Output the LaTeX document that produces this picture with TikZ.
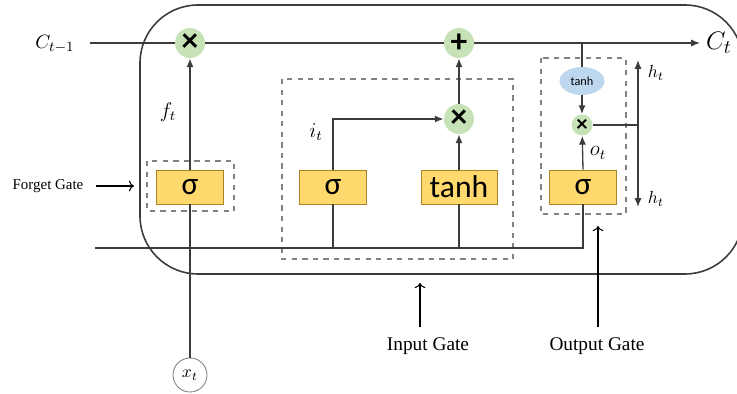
\documentclass[tikz,border=0pt]{standalone}
\usepackage{fontspec}
\setmainfont{Liberation Serif}
\newfontfamily\gatefont{Carlito}
\definecolor{GateYellow}{RGB}{255,217,110}
\definecolor{GateEdge}{RGB}{170,130,40}
\definecolor{OpGreen}{RGB}{200,226,184}
\definecolor{TanhBlue}{RGB}{189,215,238}
\definecolor{WireGray}{RGB}{60,60,60}
\definecolor{DashGray}{RGB}{130,130,130}
\usepackage{tikz}
\usetikzlibrary{shapes.geometric, arrows.meta, positioning, calc}

\begin{document}
\begin{tikzpicture}[x=0.02cm, y=-0.02cm,
    wire/.style={draw=WireGray, line width=0.75pt},
    flow/.style={wire, -{Latex[length=5pt, width=4pt]}},
    gatebox/.style={draw=GateEdge, line width=0.4pt, fill=GateYellow, minimum width=1.34cm, minimum height=0.68cm, inner sep=0pt, font=\gatefont\fontsize{18}{18}\selectfont},
    opnode/.style={circle, fill=OpGreen, minimum size=0.6cm, inner sep=0pt, font=\gatefont\bfseries\fontsize{19}{19}\selectfont},
    gategroup/.style={draw=DashGray, dashed, line width=0.7pt},
    note/.style={font=\fontsize{11}{11}\selectfont},
    pointer/.style={draw=black, line width=0.6pt, ->}]
    \clip (0,0) rectangle (737,394);

    % cell outline
    \draw[draw=WireGray, line width=0.9pt, rounded corners=1.16cm] (140,5) rectangle (743,274);

    % gate groups
    \draw[gategroup] (147,161) rectangle (234,211);
    \draw[gategroup] (282,79) rectangle (513,259);
    \draw[gategroup] (541,58) rectangle (626,214);

    % gates
    \node[gatebox] (fsig) at (190,187) {σ};
    \node[gatebox] (isig) at (333,187) {σ};
    \node[gatebox, minimum width=1.52cm] (itanh) at (459,187) {tanh};
    \node[gatebox] (osig) at (583,187) {σ};

    % pointwise operations
    \node[opnode] (fmul) at (190,43) {×};
    \node[opnode] (add) at (459,43) {+};
    \node[opnode] (imul) at (459,119) {×};
    \node[opnode, minimum size=0.42cm, font=\gatefont\bfseries\fontsize{13}{13}\selectfont] (omul) at (582,125) {×};
    \node[ellipse, fill=TanhBlue, minimum width=0.9cm, minimum height=0.56cm, inner sep=0pt, font=\gatefont\fontsize{7}{7}\selectfont] (otanh) at (582,81) {tanh};

    % input x_t
    \node[circle, draw=DashGray, line width=0.5pt, fill=white, minimum size=0.68cm, inner sep=0pt] (xt) at (190,375) {$x_t$};

    % cell state
    \coordinate (cin) at (90,43);
    \coordinate (cout) at (700,43);
    \coordinate (ctap) at (582,43);
    \node[font=\fontsize{11}{11}\selectfont] (cprev) at (55,44) {$C_{t-1}$};
    \node[font=\fontsize{15}{15}\selectfont, right=0pt of cout] (cnext) {$C_t$};
    \draw[wire] (cin) -- (fmul);
    \draw[wire] (fmul) -- (add);
    \draw[flow] (add) -- (cout);

    % hidden state bus
    \coordinate (hin) at (95,248);
    \coordinate (itap) at (333,248);
    \coordinate (ttap) at (459,248);
    \draw[wire] (hin) -| (osig.south);
    \draw[wire] (itap) -- (isig.south);
    \draw[wire] (ttap) -- (itanh.south);
    \draw[wire] (xt) -- (fsig.south);

    % forget gate
    \draw[flow] (fsig.north) -- (fmul);
    \node[font=\fontsize{12}{12}\selectfont] (ft) at (168,112) {$f_t$};

    % input gate
    \draw[flow] (isig.north) |- (imul);
    \draw[flow] (itanh.north) -- (imul);
    \draw[flow] (imul) -- (add);
    \node[font=\fontsize{12}{12}\selectfont] (it) at (316,132) {$i_t$};

    % output gate
    \draw[wire] (ctap) -- (otanh.north);
    \draw[flow] (otanh.south) -- (omul);
    \draw[flow] (osig.north) -- (omul);
    \node[font=\fontsize{12}{12}\selectfont] (ot) at (598,153) {$o_t$};
    \coordinate (hsplit) at (638,125);
    \coordinate (hup) at (638,60);
    \coordinate (hdown) at (638,207);
    \draw[wire] (omul) -- (hsplit);
    \draw[flow] (hsplit) -- (hup);
    \draw[flow] (hsplit) -- (hdown);
    \node[font=\fontsize{10}{10}\selectfont] (htup) at (656,73) {$h_t$};
    \node[font=\fontsize{10}{10}\selectfont] (htdown) at (656,199) {$h_t$};

    % captions
    \node[note, font=\fontsize{8.5}{8.5}\selectfont] (fgate) at (48,186) {Forget Gate};
    \coordinate (fpoint) at (134,186);
    \draw[pointer] ($(fgate.east)+(6,0)$) coordinate (fstart) -- (fpoint);
    \node[note] (igate) at (428,346) {Input Gate};
    \coordinate (ipoint) at (420,283);
    \draw[pointer] ($(igate.north)+(-8,-4)$) -- (ipoint);
    \node[note] (ogate) at (597,346) {Output Gate};
    \coordinate (opoint) at (598,226);
    \draw[pointer] ($(ogate.north)+(1,-4)$) -- (opoint);
\end{tikzpicture}
\end{document}
